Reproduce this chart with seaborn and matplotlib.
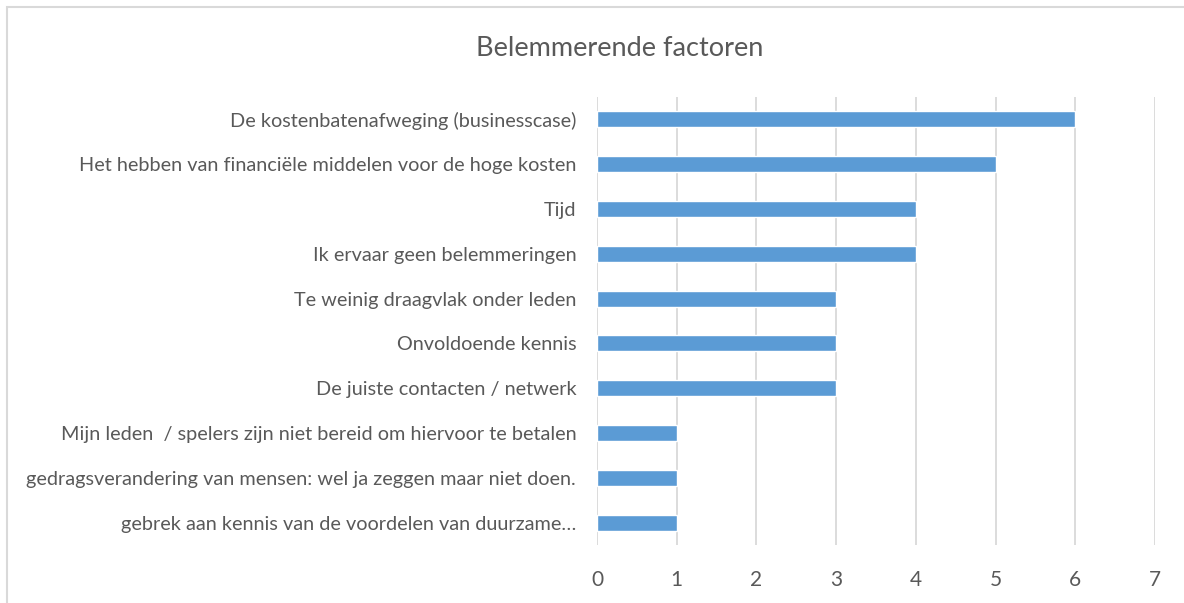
import matplotlib
matplotlib.use('Agg')
import matplotlib.pyplot as plt
import seaborn as sns
import pandas as pd

categories = ['De kostenbatenafweging (businesscase)',
              'Het hebben van financiële middelen voor de hoge kosten',
              'Tijd',
              'Ik ervaar geen belemmeringen',
              'Te weinig draagvlak onder leden',
              'Onvoldoende kennis',
              'De juiste contacten / netwerk',
              'Mijn leden  / spelers zijn niet bereid om hiervoor te betalen',
              'gedragsverandering van mensen: wel ja zeggen maar niet doen.',
              'gebrek aan kennis van de voordelen van duurzame…']
values = [6, 5, 4, 4, 3, 3, 3, 1, 1, 1]
x_ticks = [0, 1, 2, 3, 4, 5, 6, 7]

sns.set_style('white')
plt.rcParams['font.family'] = ['Lato', 'DejaVu Sans']
txt = '#595959'

df = pd.DataFrame({'factor': categories, 'n': values})
fig = plt.figure(figsize=(11.84, 6.03), dpi=100)
ax = fig.add_axes([0.5042, 0.0962, 0.4713, 0.7429])
sns.barplot(data=df, x='n', y='factor', color='#5B9BD5', width=0.36,
            saturation=1, ax=ax, zorder=3)
ax.set_xlim(0, 7); ax.set_ylim(9.5, -0.5)
ax.set_xticks(x_ticks)
ax.xaxis.grid(True, color='#D9D9D9', lw=1.3, zorder=0)
ax.yaxis.grid(False)
ax.set_axisbelow(True)
for s in ax.spines.values():
    s.set_visible(False)
ax.tick_params(axis='x', length=0, pad=18, labelsize=15, labelcolor=txt)
ax.tick_params(axis='y', length=0, pad=15, labelsize=14.3, labelcolor=txt)
ax.set_xlabel(''); ax.set_ylabel('')
fig.text(0.523, 0.92, 'Belemmerende factoren', ha='center', va='center',
         fontsize=19.5, color=txt)
fig.patches.append(plt.Rectangle((7/1184, -0.05), 1.2, 1 - 7/603 + 0.05,
                                 transform=fig.transFigure, fill=False,
                                 edgecolor='#D9D9D9', lw=1.5))
fig.savefig('out.png', dpi=100)
